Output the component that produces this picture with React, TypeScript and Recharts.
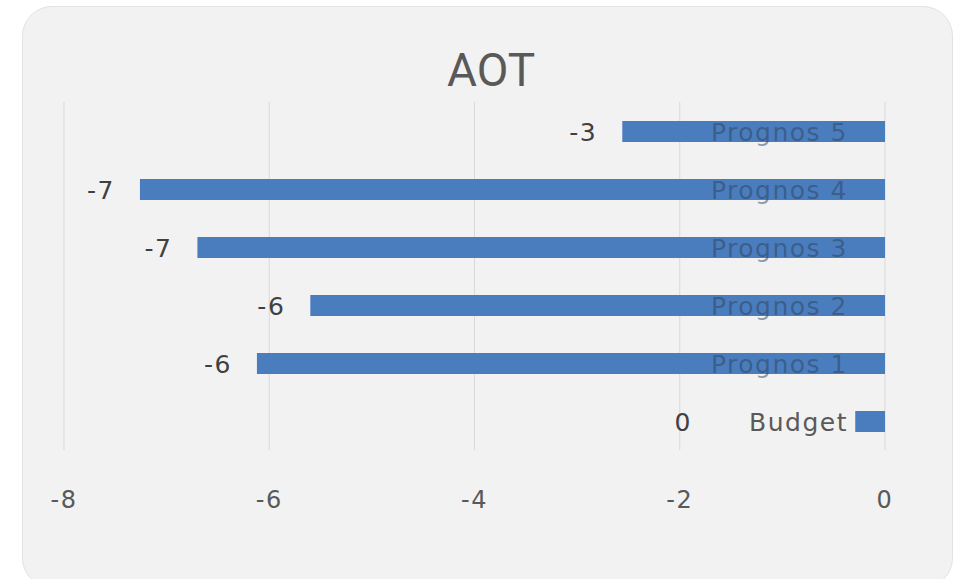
import { BarChart, Bar, XAxis, YAxis, CartesianGrid, LabelList } from "recharts";

const categories = ["Budget", "Prognos 1", "Prognos 2", "Prognos 3", "Prognos 4", "Prognos 5"];
const values = [-0.29, -6.12, -5.6, -6.7, -7.26, -2.56];
const xTicks = [-8, -6, -4, -2, 0];

const data = categories.map((name, i) => ({ name, value: values[i] }));

const FONT = "'DejaVu Sans', sans-serif";

function XTick(props: any) {
  const { x, y, payload } = props;
  return (
    <text x={x} y={y + 58} textAnchor="middle" fill="#595959" fontSize={24} fontFamily={FONT} letterSpacing={1.5}>
      {payload.value}
    </text>
  );
}

function BarLabels(props: any) {
  const vb = props.viewBox ?? props;
  const x = vb.x ?? props.x;
  const y = vb.y ?? props.y;
  const width = vb.width ?? props.width;
  const height = vb.height ?? props.height;
  const index = props.index;
  const value = Number(props.value);
  const left = Math.min(x, x + width);
  const right = Math.max(x, x + width);
  const cy = y + height / 2;
  const name = categories[index];
  const nameRight = right - 37;
  const nameLeft = nameRight - name.length * 16;
  const overBar = left < nameLeft;
  const valueRight = Math.min(left - 25, nameLeft - 60);
  return (
    <g>
      <text
        x={valueRight}
        y={cy}
        dy="0.36em"
        textAnchor="end"
        fill="#404040"
        fontSize={25}
        fontFamily={FONT}
        letterSpacing={1.5}
      >
        {Math.round(value).toFixed(0)}
      </text>
      <text
        x={nameRight}
        y={cy}
        dy="0.36em"
        textAnchor="end"
        fill={overBar ? "#2f3f58" : "#595959"}
        fillOpacity={overBar ? 0.5 : 1}
        fontSize={25}
        fontFamily={FONT}
        letterSpacing={1.5}
      >
        {name}
      </text>
    </g>
  );
}

export default function App() {
  return (
    <div style={{ position: "fixed", left: 0, top: 0, width: 955, height: 579, overflow: "hidden", background: "#ffffff" }}>
      <div
        style={{
          position: "absolute",
          left: 22,
          top: 6,
          width: 931,
          height: 582,
          borderRadius: 30,
          background: "#f2f2f2",
          border: "1px solid #e2e2e2",
          boxSizing: "border-box",
        }}
      />
      <div
        style={{
          position: "absolute",
          left: 0,
          top: 40,
          width: 982,
          textAlign: "center",
          fontFamily: "Roboto, sans-serif",
          fontSize: 46,
          color: "#595959",
          lineHeight: "60px",
        }}
      >
        AOT
      </div>
      <div style={{ position: "absolute", left: 0, top: 0 }}>
        <BarChart
          width={955}
          height={579}
          data={data}
          layout="vertical"
          margin={{ top: 102, right: 70, bottom: 69, left: 64 }}
        >
          <CartesianGrid horizontal={false} stroke="#d9d9d9" />
          <XAxis
            type="number"
            domain={[-8, 0]}
            ticks={xTicks}
            axisLine={false}
            tickLine={false}
            tickSize={0}
            tickMargin={0}
            height={60}
            tick={<XTick />}
            interval={0}
          />
          <YAxis type="category" dataKey="name" reversed hide />
          <Bar dataKey="value" fill="#4a7dbe" barSize={21} isAnimationActive={false}>
            <LabelList dataKey="value" content={<BarLabels />} />
          </Bar>
        </BarChart>
      </div>
    </div>
  );
}
